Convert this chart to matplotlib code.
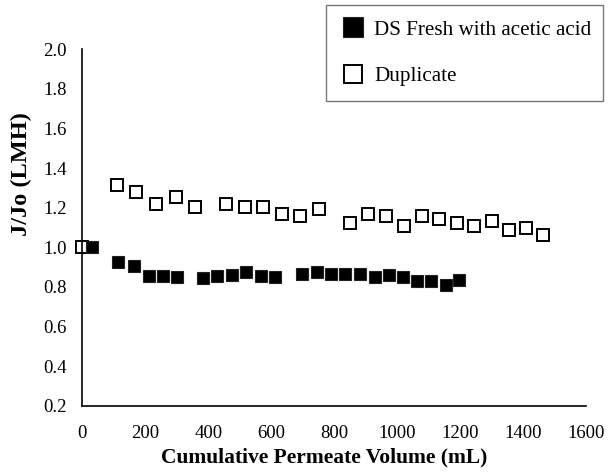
import matplotlib
matplotlib.use("Agg")
import matplotlib.pyplot as plt

# DS Fresh with acetic acid (filled squares)
fresh_vol = [30, 114, 164, 212, 257, 302, 384, 429, 474, 520, 566, 612,
             697, 744, 789, 834, 882, 929, 975, 1019, 1064, 1109, 1155, 1197]
fresh_flux = [1.00, 0.927, 0.904, 0.857, 0.854, 0.849, 0.844, 0.854, 0.859,
              0.875, 0.857, 0.852, 0.864, 0.875, 0.864, 0.864, 0.864, 0.852,
              0.859, 0.852, 0.832, 0.832, 0.808, 0.835]

# Duplicate (open squares)
dup_vol = [0, 109, 170, 234, 297, 358, 455, 516, 575, 635, 693, 752, 850,
           908, 964, 1021, 1078, 1133, 1189, 1245, 1300, 1355, 1409, 1462]
dup_flux = [1.00, 1.314, 1.277, 1.218, 1.255, 1.205, 1.218, 1.205, 1.205,
            1.169, 1.158, 1.193, 1.121, 1.169, 1.158, 1.109, 1.158, 1.144,
            1.121, 1.109, 1.133, 1.086, 1.097, 1.060]

x_ticks = [0, 200, 400, 600, 800, 1000, 1200, 1400, 1600]
y_ticks = [0.2, 0.4, 0.6, 0.8, 1.0, 1.2, 1.4, 1.6, 1.8, 2.0]

plt.rcParams["font.family"] = ["Liberation Serif", "DejaVu Serif"]

fig = plt.figure(figsize=(6.13, 4.75), dpi=100)
ax = fig.add_axes([0.1343, 0.1453, 0.8217, 0.7515])

ax.plot(fresh_vol, fresh_flux, linestyle="none", marker="s", markersize=8.8,
        markerfacecolor="black", markeredgecolor="#222222", markeredgewidth=0.8,
        label="DS Fresh with acetic acid", clip_on=False, zorder=3)
ax.plot(dup_vol, dup_flux, linestyle="none", marker="s", markersize=8.0,
        markerfacecolor="white", markeredgecolor="black", markeredgewidth=1.4,
        label="Duplicate", clip_on=False, zorder=2.5)

ax.set_xlim(0, 1600)
ax.set_ylim(0.2, 2.0)
ax.set_xticks(x_ticks)
ax.set_yticks(y_ticks)
ax.set_yticklabels([f"{v:.1f}" for v in y_ticks])
ax.tick_params(length=0, labelsize=13.5)
ax.tick_params(axis="x", pad=14)
ax.tick_params(axis="y", pad=11)

for side in ["top", "right"]:
    ax.spines[side].set_visible(False)
for side in ["left", "bottom"]:
    ax.spines[side].set_linewidth(1.2)

ax.set_xlabel("Cumulative Permeate Volume (mL)", fontsize=15.5, fontweight="bold")
ax.xaxis.set_label_coords(0.48, -0.115)
ax.xaxis.label.set_va("top")
ax.set_ylabel("J/Jo (LMH)", fontsize=17.5, fontweight="bold")
ax.yaxis.set_label_coords(-0.10, 0.65)

leg = fig.legend(loc="upper left", bbox_to_anchor=(0.531, 0.799, 0.453, 0.19),
                 mode="expand", borderaxespad=0, fontsize=15.2, markerscale=1.65,
                 frameon=True, fancybox=False, edgecolor="#555555",
                 handletextpad=0.4, labelspacing=1.25, borderpad=0.7,
                 handlelength=1.2)
leg.get_frame().set_linewidth(1.0)

fig.savefig("out.png", dpi=100)
